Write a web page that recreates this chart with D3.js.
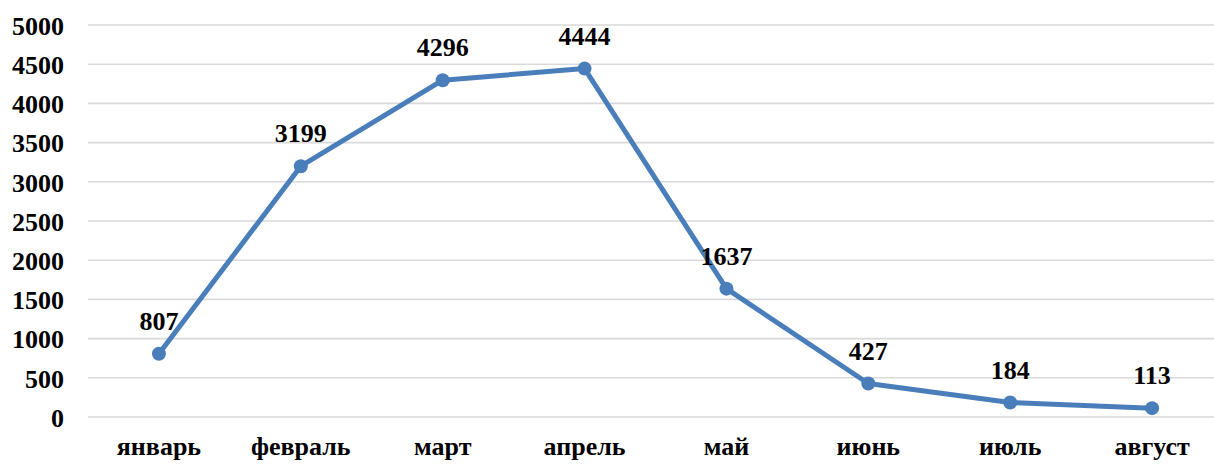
<!DOCTYPE html>
<html>
<head>
<meta charset="utf-8">
<script src="https://cdn.jsdelivr.net/npm/d3@7"></script>
<style>
  body { margin: 0; background: #fff; }
</style>
</head>
<body>
<div class="box"></div>
<script>
const months = ['январь', 'февраль', 'март', 'апрель', 'май', 'июнь', 'июль', 'август'];
const values = [807, 3199, 4296, 4444, 1637, 427, 184, 113];
const yTicks = [0, 500, 1000, 1500, 2000, 2500, 3000, 3500, 4000, 4500, 5000];

const dims = {width: 1214, height: 464, left: 88, right: 1223, top: 25, bottom: 417};
const police = "'Liberation Serif'";

const svg = d3.select('.box')
              .append('svg')
              .attr('width', dims.width)
              .attr('height', dims.height);

const x = d3.scaleBand()
            .domain(months)
            .range([dims.left, dims.right]);

const y = d3.scaleLinear()
            .domain([0, 5000])
            .range([dims.bottom, dims.top]);

// style commun des textes
const styleTexte = sel => sel.style('font-family', police)
                            .style('font-weight', 'bold')
                            .style('font-size', '26px')
                            .attr('fill', '#000');

// grille horizontale
svg.append('g')
   .selectAll('line')
   .data(yTicks)
   .join('line')
   .attr('x1', dims.left)
   .attr('x2', dims.right)
   .attr('y1', d => y(d))
   .attr('y2', d => y(d))
   .attr('stroke', '#d9d9d9')
   .attr('stroke-width', 1.6);

// axe Y
const yAxis = d3.axisLeft(y).tickValues(yTicks).tickFormat(d3.format('d')).tickSize(0).tickPadding(24);
svg.append('g')
   .attr('transform', `translate(${dims.left}, 0)`)
   .call(yAxis)
   .call(g => g.select('.domain').remove())
   .selectAll('text')
   .call(styleTexte)
   .attr('dy', '0.36em');

// axe X
const xAxis = d3.axisBottom(x).tickSize(0).tickPadding(20);
svg.append('g')
   .attr('transform', `translate(0, ${dims.bottom})`)
   .call(xAxis)
   .call(g => g.select('.domain').remove())
   .selectAll('text')
   .call(styleTexte);

const cx = d => x(d) + x.bandwidth() / 2;

const line = d3.line()
               .x((d, i) => cx(months[i]))
               .y(d => y(d));

svg.append('path')
   .datum(values)
   .attr('d', line)
   .attr('fill', 'none')
   .attr('stroke', '#4a7ebb')
   .attr('stroke-width', 5)
   .attr('stroke-linejoin', 'round');

svg.append('g')
   .selectAll('circle')
   .data(values)
   .join('circle')
   .attr('cx', (d, i) => cx(months[i]))
   .attr('cy', d => y(d))
   .attr('r', 7)
   .attr('fill', '#4a7ebb');

// étiquettes
svg.append('g')
   .selectAll('text')
   .data(values)
   .join('text')
   .attr('x', (d, i) => cx(months[i]))
   .attr('y', d => y(d) - 24)
   .attr('text-anchor', 'middle')
   .call(styleTexte)
   .text(d => d);
</script>
</body>
</html>
